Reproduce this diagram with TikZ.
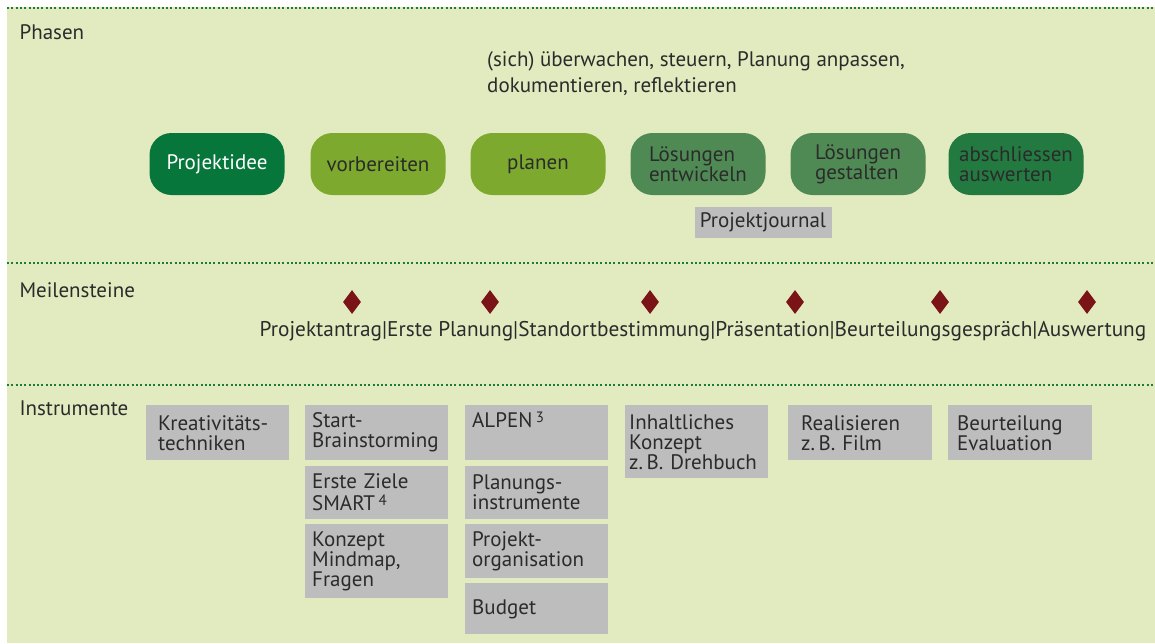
\documentclass[tikz,border=0pt]{standalone}
\usepackage{fontspec}
\setmainfont{PT Sans}
\usepackage{xcolor}
\usetikzlibrary{positioning,shapes.geometric}

\definecolor{bggreen}{HTML}{E2EBC0}
\definecolor{dotgreen}{HTML}{1E7A3A}
\definecolor{ideagreen}{HTML}{06763A}
\definecolor{olivegreen}{HTML}{7DAA2E}
\definecolor{mutedgreen}{HTML}{4F8A55}
\definecolor{endgreen}{HTML}{237A40}
\definecolor{boxgray}{HTML}{BDBDBD}
\definecolor{stonered}{HTML}{7B1416}
\definecolor{inkgray}{HTML}{2B2B2B}

\newcommand{\fnmark}[1]{\raisebox{0.25em}{\fontsize{15}{15}\selectfont#1}}

\tikzset{
  phase/.style={rounded corners=22pt, minimum width=135pt, minimum height=62pt,
    align=left, inner sep=0pt, font=\fontsize{21}{20}\selectfont},
  tool/.style={fill=boxgray, anchor=north west, text width=129pt, inner xsep=7pt,
    inner ysep=0pt, align=left, font=\fontsize{21}{20}\selectfont},
  stone/.style={diamond, fill=stonered, inner sep=0pt, minimum width=18pt, minimum height=24pt},
  rowline/.style={dotgreen, line width=2.5pt, dash pattern=on 2pt off 2.3pt},
  rowtitle/.style={anchor=west, font=\fontsize{21}{20}\selectfont}
}

\begin{document}
\begin{tikzpicture}[x=1pt,y=-1pt,text=inkgray]
\useasboundingbox (0,0) rectangle (1155,643);
\fill[white] (0,0) rectangle (1155,643);
\fill[bggreen] (7,7) rectangle (1155,643);
% Trennlinien
\draw[rowline] (7,8) -- (1155,8);
\draw[rowline] (7,263) -- (1155,263);
\draw[rowline] (7,385) -- (1155,385);

% Phasen
\node[rowtitle] (phasen) at (16,32) {Phasen};
\node[anchor=north west, align=left, inner sep=0pt, font=\fontsize{21}{26}\selectfont]
  (steuern) at (487,51) {(sich) überwachen, steuern, Planung anpassen,\\dokumentieren, reflektieren};
\node[phase, fill=ideagreen, text=white] (idee) at (217,164) {Projektidee};
\node[phase, fill=olivegreen] (vorbereiten) at (378,164) {vorbereiten};
\node[phase, fill=olivegreen] (planen) at (538,164) {planen};
\node[phase, fill=mutedgreen] (entwickeln) at (698,164) {Lösungen\\entwickeln};
\node[phase, fill=mutedgreen] (gestalten) at (858,164) {Lösungen\\gestalten};
\node[phase, fill=endgreen] (abschluss) at (1016,164) {abschliessen\\auswerten};
\node[fill=boxgray, minimum width=137pt, minimum height=31pt, inner sep=0pt,
  font=\fontsize{21}{20}\selectfont] (journal) at (763,222) {Projektjournal};

% Meilensteine
\node[rowtitle] (meilen) at (16,290) {Meilensteine};
\foreach \x [count=\i] in {352,490,650,795,940,1087}
  \node[stone] (stone\i) at (\x,302) {};
\node[font=\fontsize{21.3}{20}\selectfont, inner sep=0pt] (etappen) at (703,331)
  {Projektantrag|Erste Planung|Standortbestimmung|Präsentation|Beurteilungsgespräch|Auswertung};

% Instrumente
\node[rowtitle] (instr) at (16,408) {Instrumente};
\node[tool, minimum height=55pt, inner xsep=12pt, text width=119pt] (kreativ) at (146,405) {Kreativitäts-\\techniken};
\node[tool, minimum height=55pt] (start) at (305,405) {Start-\\Brainstorming};
\node[tool, minimum height=53pt, below=5pt of start.south west, anchor=north west,
  font=\fontsize{21}{22}\selectfont] (ziele) {Erste Ziele\\SMART\,\fnmark{4}};
\node[tool, minimum height=74pt, below=5pt of ziele.south west, anchor=north west] (konzept) {Konzept\\Mindmap,\\Fragen};
\node[tool, minimum height=55pt] (alpen) at (465,405) {ALPEN\,\fnmark{3}\\\strut};
\node[tool, minimum height=53pt, below=5pt of alpen.south west, anchor=north west] (planinstr) {Planungs-\\instrumente};
\node[tool, minimum height=54pt, below=5pt of planinstr.south west, anchor=north west] (orga) {Projekt-\\organisation};
\node[tool, minimum height=51pt, below=5pt of orga.south west, anchor=north west] (budget) {Budget};
\node[tool, minimum height=73pt, inner xsep=4pt, text width=135pt] (inhalt) at (625,405) {Inhaltliches\\Konzept\\z.\,B.~Drehbuch};
\node[tool, minimum height=55pt, inner xsep=13pt, text width=118pt] (film) at (788,405) {Realisieren\\z.\,B.~Film};
\node[tool, minimum height=55pt, inner xsep=9pt, text width=126pt] (beurteilung) at (948,405) {Beurteilung\\Evaluation};
\end{tikzpicture}
\end{document}
